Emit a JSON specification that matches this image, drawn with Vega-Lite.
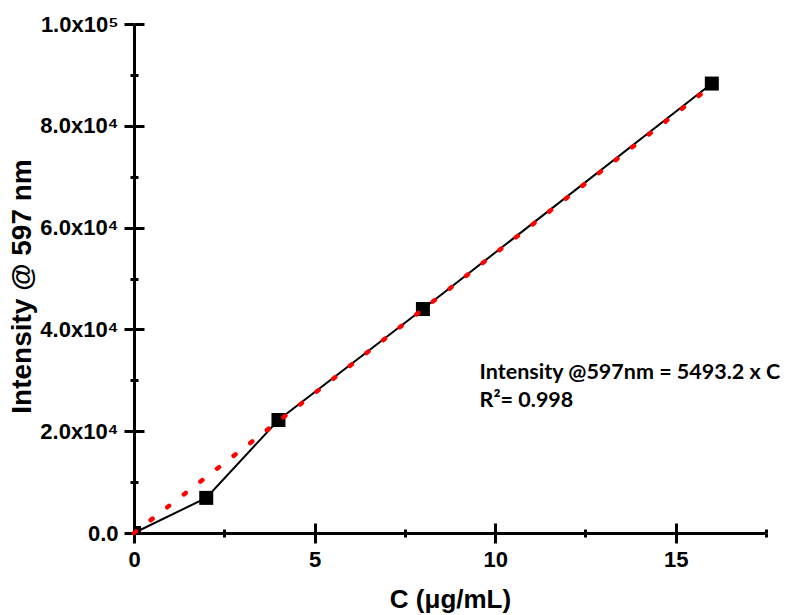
{
  "$schema": "https://vega.github.io/schema/vega-lite/v6.json",
  "autosize": "none",
  "width": 632,
  "height": 509,
  "padding": {"left": 134, "top": 24, "right": 20, "bottom": 82},
  "background": "white",
  "config": {
    "view": {"stroke": null},
    "axis": {
      "grid": false,
      "domainColor": "black",
      "domainWidth": 3,
      "tickColor": "black",
      "tickWidth": 3,
      "labelColor": "black",
      "labelFont": "Liberation Sans",
      "labelFontWeight": "bold",
      "labelFontSize": 22,
      "titleFont": "Liberation Sans",
      "titleFontWeight": "bold",
      "titleFontSize": 26,
      "titleColor": "black",
      "zindex": 1
    }
  },
  "datasets": {
    "points": [
      {"C": 0, "I": 0},
      {"C": 2, "I": 6900},
      {"C": 4, "I": 22200},
      {"C": 8, "I": 44000},
      {"C": 16, "I": 88300}
    ],
    "fit": [
      {"C": 0, "I": 0},
      {"C": 16, "I": 87891}
    ],
    "note": [
      {"C": 9.57, "I": 30200, "label": "Intensity @597nm = 5493.2 x C"},
      {"C": 9.57, "I": 24700, "label": "R²= 0.998"}
    ]
  },
  "resolve": {"axis": {"x": "independent", "y": "independent"}},
  "layer": [
    {
      "data": {"name": "points"},
      "mark": {"type": "line", "color": "black", "strokeWidth": 2},
      "encoding": {
        "x": {
          "field": "C", "type": "quantitative",
          "scale": {"domain": [0, 17.5], "nice": false, "zero": false},
          "axis": {"orient": "bottom", "values": [0, 5, 10, 15], "tickSize": 10, "labelPadding": 6, "title": "C (μg/mL)", "titlePadding": 16, "labelFlush": false}
        },
        "y": {
          "field": "I", "type": "quantitative",
          "scale": {"domain": [0, 100000], "nice": false, "zero": false},
          "axis": {"orient": "left", "values": [0, 20000, 40000, 60000, 80000, 100000], "tickSize": 10, "labelPadding": 6, "labelFlush": false,
            "labelExpr": "datum.value == 0 ? '0.0' : (datum.value < 100000 ? format(datum.value / 10000, '.1f') + 'x10⁴' : '1.0x10⁵')",
            "title": "Intensity @ 597 nm", "titlePadding": 3, "titleFontSize": 28, "titleY": 262}
        }
      }
    },
    {
      "data": {"name": "points"},
      "mark": {"type": "square", "color": "black", "opacity": 1, "size": 196, "clip": true},
      "encoding": {
        "x": {"field": "C", "type": "quantitative",
          "axis": {"orient": "bottom", "values": [0, 5, 10, 15], "tickSize": -10, "labels": false, "domain": false, "title": null}},
        "y": {"field": "I", "type": "quantitative",
          "axis": {"orient": "left", "values": [0, 20000, 40000, 60000, 80000, 100000], "tickSize": -10, "labels": false, "domain": false, "title": null}}
      }
    },
    {
      "data": {"name": "fit"},
      "mark": {"type": "line", "color": "#ff0000", "strokeWidth": 4.5, "strokeCap": "round", "strokeDash": [2.5, 18.5]},
      "encoding": {
        "x": {"field": "C", "type": "quantitative",
          "axis": {"orient": "bottom", "values": [2.5, 7.5, 12.5, 17.5], "tickSize": 4, "labels": false, "domain": false, "title": null}},
        "y": {"field": "I", "type": "quantitative",
          "axis": {"orient": "left", "values": [10000, 30000, 50000, 70000, 90000], "tickSize": 4, "labels": false, "domain": false, "title": null}}
      }
    },
    {
      "data": {"name": "note"},
      "mark": {"type": "text", "align": "left", "baseline": "alphabetic", "font": "Lato", "fontWeight": "bold", "fontSize": 21.5, "color": "black"},
      "encoding": {
        "x": {"field": "C", "type": "quantitative",
          "axis": {"orient": "bottom", "values": [2.5, 7.5, 12.5, 17.5], "tickSize": -4, "labels": false, "domain": false, "title": null}},
        "y": {"field": "I", "type": "quantitative",
          "axis": {"orient": "left", "values": [10000, 30000, 50000, 70000, 90000], "tickSize": -4, "labels": false, "domain": false, "title": null}},
        "text": {"field": "label", "type": "nominal"}
      }
    }
  ]
}
